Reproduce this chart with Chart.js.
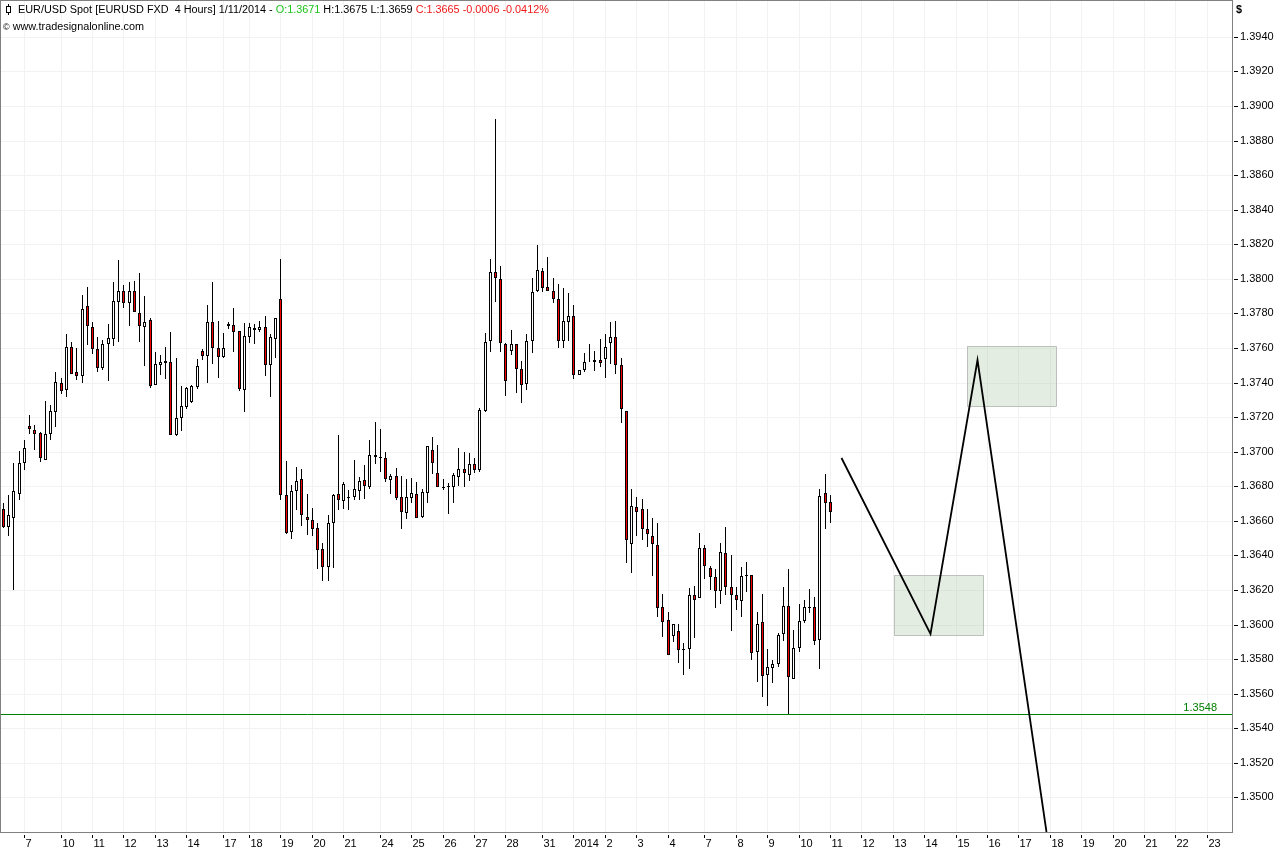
<!DOCTYPE html>
<html>
<head>
<meta charset="utf-8">
<title>EUR/USD Spot</title>
<script src="https://cdn.jsdelivr.net/npm/chart.js@4/dist/chart.umd.min.js"></script>
<style>
html, body { margin: 0; padding: 0; background: #fff; }
#wrap { position: relative; width: 1285px; height: 851px; overflow: hidden; }
canvas { position: absolute; left: 0; top: 0; }
.txt { position: absolute; font: 10.85px "Liberation Sans", sans-serif; color: #000; white-space: pre; line-height: 14px; }
</style>
</head>
<body>
<div id="wrap">
  <canvas id="chart" width="1285" height="851"></canvas>
  <div class="txt" style="left:18px;top:2px">EUR/USD Spot [EURUSD FXD  4 Hours] 1/11/2014 - <span style="color:#19c419">O:1.3671</span> H:1.3675 L:1.3659 <span style="color:#f01818">C:1.3665 -0.0006 -0.0412%</span></div>
  <div class="txt" style="left:3px;top:19px"><span style="font-size:9px">©</span> www.tradesignalonline.com</div>
  <div class="txt" style="left:1236px;top:2px;font-weight:bold">$</div>
</div>
<script>
const opens = [
  1.36668, 1.36567, 1.36614, 1.36758, 1.36937, 1.37147, 1.37124, 1.37106, 1.36954, 1.37105,
  1.37232, 1.37395, 1.37359, 1.37603, 1.37459, 1.37440, 1.37840, 1.37724, 1.37592, 1.37484,
  1.37624, 1.37653, 1.37867, 1.37927, 1.37861, 1.37927, 1.37805, 1.37722, 1.37759, 1.37388,
  1.37499, 1.37522, 1.37517, 1.37099, 1.37193, 1.37260, 1.37289, 1.37376, 1.37584, 1.37555,
  1.37748, 1.37597, 1.37549, 1.37736, 1.37730, 1.37696, 1.37359, 1.37665, 1.37713, 1.37705,
  1.37719, 1.37503, 1.37653, 1.37886, 1.36748, 1.36533, 1.36770, 1.36841, 1.36621, 1.36604,
  1.36558, 1.36437, 1.36331, 1.36585, 1.36754, 1.36714, 1.36737, 1.36735, 1.36772, 1.36835,
  1.36798, 1.36979, 1.36968, 1.36962, 1.36835, 1.36858, 1.36737, 1.36644, 1.36731, 1.36754,
  1.36625, 1.36760, 1.37008, 1.36875, 1.36797, 1.36800, 1.36795, 1.36852, 1.36899, 1.36864,
  1.36927, 1.36893, 1.37237, 1.37638, 1.38041, 1.38000, 1.37625, 1.37584, 1.37625, 1.37480,
  1.37394, 1.37642, 1.37931, 1.38046, 1.37954, 1.37931, 1.37885, 1.37642, 1.37752, 1.37786,
  1.37446, 1.37475, 1.37519, 1.37521, 1.37532, 1.37538, 1.37630, 1.37665, 1.37503, 1.37238,
  1.36464, 1.36678, 1.36666, 1.36551, 1.36510, 1.36458, 1.36099, 1.36024, 1.35932, 1.35960,
  1.35856, 1.35856, 1.36169, 1.36151, 1.36441, 1.36325, 1.36273, 1.36192, 1.36412, 1.36215,
  1.36169, 1.36134, 1.36285, 1.36285, 1.35839, 1.36013, 1.35706, 1.35746, 1.35770, 1.35943,
  1.36105, 1.35683, 1.35862, 1.36018, 1.36097, 1.36099, 1.35908, 1.36759, 1.36710
];
const closes = [
  1.36562, 1.36633, 1.36772, 1.36933, 1.37020, 1.37133, 1.37105, 1.36966, 1.37101, 1.37234,
  1.37401, 1.37353, 1.37603, 1.37451, 1.37440, 1.37828, 1.37728, 1.37592, 1.37486, 1.37620,
  1.37655, 1.37869, 1.37927, 1.37861, 1.37932, 1.37809, 1.37728, 1.37753, 1.37382, 1.37505,
  1.37517, 1.37515, 1.37099, 1.37193, 1.37262, 1.37366, 1.37378, 1.37493, 1.37555, 1.37748,
  1.37597, 1.37549, 1.37597, 1.37728, 1.37694, 1.37364, 1.37672, 1.37719, 1.37705, 1.37722,
  1.37503, 1.37661, 1.37771, 1.36752, 1.36527, 1.36772, 1.36829, 1.36633, 1.36604, 1.36552,
  1.36431, 1.36331, 1.36587, 1.36748, 1.36720, 1.36812, 1.36731, 1.36783, 1.36829, 1.36800,
  1.36979, 1.36968, 1.36962, 1.36841, 1.36858, 1.36731, 1.36650, 1.36737, 1.36760, 1.36616,
  1.36766, 1.37031, 1.36937, 1.36795, 1.36791, 1.36795, 1.36864, 1.36899, 1.36875, 1.36927,
  1.36893, 1.37239, 1.37632, 1.38042, 1.38006, 1.37630, 1.37411, 1.37625, 1.37480, 1.37388,
  1.37642, 1.37925, 1.38052, 1.37948, 1.37931, 1.37885, 1.37642, 1.37758, 1.37786, 1.37446,
  1.37475, 1.37521, 1.37521, 1.37532, 1.37513, 1.37607, 1.37665, 1.37503, 1.37244, 1.36487,
  1.36683, 1.36649, 1.36551, 1.36522, 1.36464, 1.36094, 1.36013, 1.35822, 1.36001, 1.35851,
  1.35851, 1.36169, 1.36140, 1.36441, 1.36337, 1.36273, 1.36192, 1.36418, 1.36215, 1.36169,
  1.36140, 1.36279, 1.36279, 1.35833, 1.36001, 1.35700, 1.35752, 1.35770, 1.35937, 1.36105,
  1.35694, 1.35862, 1.36018, 1.36099, 1.36101, 1.35903, 1.36742, 1.36701, 1.36650
];
const highs = [
  1.36702, 1.36748, 1.36933, 1.37004, 1.37068, 1.37212, 1.37155, 1.37112, 1.37291, 1.37270,
  1.37461, 1.37426, 1.37678, 1.37632, 1.37599, 1.37909, 1.37952, 1.37748, 1.37661, 1.37644,
  1.37738, 1.37980, 1.38107, 1.37963, 1.37980, 1.37986, 1.38036, 1.37903, 1.37771, 1.37576,
  1.37557, 1.37605, 1.37690, 1.37542, 1.37380, 1.37372, 1.37384, 1.37534, 1.37594, 1.37846,
  1.37979, 1.37755, 1.37686, 1.37749, 1.37830, 1.37696, 1.37742, 1.37742, 1.37738, 1.37755,
  1.37784, 1.37678, 1.37771, 1.38113, 1.36947, 1.36806, 1.36910, 1.36899, 1.36754, 1.36673,
  1.36585, 1.36471, 1.36633, 1.36754, 1.37095, 1.36824, 1.36777, 1.36952, 1.36852, 1.36922,
  1.37066, 1.37170, 1.37130, 1.36997, 1.36870, 1.36904, 1.36858, 1.36841, 1.36847, 1.36824,
  1.36783, 1.37031, 1.37083, 1.37037, 1.36841, 1.36818, 1.36875, 1.37020, 1.36997, 1.36991,
  1.36962, 1.37251, 1.37684, 1.38117, 1.38924, 1.38075, 1.37630, 1.37706, 1.37625, 1.37527,
  1.37682, 1.38006, 1.38196, 1.38064, 1.38127, 1.38006, 1.37971, 1.37948, 1.37919, 1.37850,
  1.37475, 1.37573, 1.37625, 1.37584, 1.37654, 1.37682, 1.37752, 1.37758, 1.37544, 1.37238,
  1.36782, 1.36735, 1.36724, 1.36666, 1.36614, 1.36585, 1.36175, 1.36070, 1.36001, 1.36003,
  1.35893, 1.36209, 1.36221, 1.36528, 1.36458, 1.36337, 1.36319, 1.36470, 1.36562, 1.36400,
  1.36215, 1.36331, 1.36360, 1.36285, 1.36070, 1.36175, 1.35856, 1.35793, 1.35949, 1.36215,
  1.36319, 1.35966, 1.36117, 1.36140, 1.36204, 1.36157, 1.36782, 1.36869, 1.36750
];
const lows = [
  1.36556, 1.36510, 1.36202, 1.36718, 1.36895, 1.37105, 1.37010, 1.36943, 1.36949, 1.37068,
  1.37145, 1.37336, 1.37318, 1.37451, 1.37414, 1.37399, 1.37617, 1.37567, 1.37463, 1.37474,
  1.37409, 1.37613, 1.37636, 1.37832, 1.37728, 1.37809, 1.37636, 1.37495, 1.37370, 1.37388,
  1.37445, 1.37422, 1.37099, 1.37093, 1.37122, 1.37249, 1.37280, 1.37364, 1.37530, 1.37397,
  1.37509, 1.37428, 1.37543, 1.37711, 1.37578, 1.37353, 1.37230, 1.37630, 1.37622, 1.37694,
  1.37438, 1.37318, 1.37543, 1.36723, 1.36521, 1.36492, 1.36664, 1.36571, 1.36516, 1.36510,
  1.36319, 1.36250, 1.36250, 1.36325, 1.36660, 1.36670, 1.36660, 1.36718, 1.36723, 1.36729,
  1.36787, 1.36931, 1.36885, 1.36822, 1.36758, 1.36718, 1.36550, 1.36608, 1.36706, 1.36616,
  1.36619, 1.36706, 1.36868, 1.36795, 1.36781, 1.36637, 1.36706, 1.36804, 1.36798, 1.36829,
  1.36874, 1.36881, 1.37232, 1.37578, 1.37865, 1.37577, 1.37322, 1.37557, 1.37340, 1.37282,
  1.37357, 1.37571, 1.37923, 1.37923, 1.37931, 1.37860, 1.37600, 1.37600, 1.37642, 1.37421,
  1.37446, 1.37461, 1.37519, 1.37467, 1.37492, 1.37426, 1.37505, 1.37450, 1.37167, 1.36358,
  1.36300, 1.36514, 1.36491, 1.36450, 1.36283, 1.36045, 1.35930, 1.35822, 1.35901, 1.35779,
  1.35710, 1.35743, 1.35924, 1.36151, 1.36261, 1.36202, 1.36097, 1.36121, 1.36169, 1.35964,
  1.36086, 1.36045, 1.36186, 1.35797, 1.35669, 1.35582, 1.35530, 1.35663, 1.35752, 1.35906,
  1.35480, 1.35683, 1.35841, 1.36011, 1.36069, 1.35883, 1.35744, 1.36555, 1.36590
];

const dayTicks = [4, 11, 17, 23, 29, 35, 42, 47, 53, 59, 65, 72, 78, 84, 90, 96, 103, 109, 115, 121, 127, 134, 140, 146, 152, 158, 164, 170, 176, 182, 188, 194, 200, 206, 212, 218, 224, 230];
const dayLabels = ['7', '10', '11', '12', '13', '14', '17', '18', '19', '20', '21', '24', '25', '26', '27', '28', '31', '2014', '2', '3', '4', '7', '8', '9', '10', '11', '12', '13', '14', '15', '16', '17', '18', '19', '20', '21', '22', '23'];
const priceTicks = [1.394, 1.392, 1.39, 1.388, 1.386, 1.384, 1.382, 1.38, 1.378, 1.376, 1.374, 1.372, 1.37, 1.368, 1.366, 1.364, 1.362, 1.36, 1.358, 1.356, 1.354, 1.352, 1.35];

const supportLevel = 1.3548;
const forecastX = [160.1, 177.1, 186, 199.2];
const forecastY = [1.36963, 1.35945, 1.3753, 1.348];
const lowerZoneX = [170.2, 187.2];
const lowerZoneY = [1.3594, 1.36287];
const upperZoneX = [184.2, 201.2];
const upperZoneY = [1.37264, 1.37611];

function zonePoints(xs, ys) {
    return [
        { x: xs[0], y: ys[0] }, { x: xs[1], y: ys[0] },
        { x: xs[1], y: ys[1] }, { x: xs[0], y: ys[1] }, { x: xs[0], y: ys[0] }
    ];
}

function zoneDataset(xs, ys) {
    return {
        type: 'line',
        data: zonePoints(xs, ys),
        borderColor: '#bcc1bc',
        borderWidth: 1,
        backgroundColor: 'rgba(170, 200, 165, 0.33)',
        fill: 'shape',
        pointRadius: 0,
        tension: 0,
        crispY: true,
        order: 5
    };
}

// snap candles to whole pixels, the original has no anti-aliasing
function snapX(scale) {
    const proto = Object.getPrototypeOf(scale);
    scale.getPixelForValue = v => Math.floor(proto.getPixelForValue.call(scale, v)) + 0.5;
}
function snapY(scale) {
    const proto = Object.getPrototypeOf(scale);
    scale.getPixelForValue = v => Math.round(proto.getPixelForValue.call(scale, v));
}
function noPadding(scale) {
    scale.paddingLeft = scale.paddingRight = scale.paddingTop = scale.paddingBottom = 0;
}

const frame = {
    id: 'frame',
    beforeDatasetDraw(chart, args) {
        const ds = chart.data.datasets[args.index];
        if (ds.crispY) {
            chart.ctx.save();
            chart.ctx.translate(0, 0.5);
        }
    },
    afterDatasetDraw(chart, args) {
        if (chart.data.datasets[args.index].crispY) chart.ctx.restore();
    },
    afterDraw(chart) {
        const { ctx, chartArea: a, scales } = chart;
        ctx.save();
        ctx.strokeStyle = '#808080';
        ctx.lineWidth = 1;
        ctx.strokeRect(0.5, 0.5, a.right, a.bottom);

        ctx.strokeStyle = '#000';
        ctx.beginPath();
        priceTicks.forEach(v => {
            const y = scales.y.getPixelForValue(v) + 0.5;
            ctx.moveTo(a.right + 2, y);
            ctx.lineTo(a.right + 6, y);
        });
        dayTicks.forEach(v => {
            const x = scales.x.getPixelForValue(v);
            ctx.moveTo(x, a.bottom + 3);
            ctx.lineTo(x, a.bottom + 6);
        });
        // little candle symbol in front of the title
        ctx.moveTo(8.5, 4);
        ctx.lineTo(8.5, 15);
        ctx.stroke();
        ctx.fillStyle = '#fff';
        ctx.fillRect(6.5, 6.5, 4, 6);
        ctx.strokeRect(6.5, 6.5, 4, 6);

        ctx.fillStyle = '#008000';
        ctx.font = '11px "Liberation Sans", sans-serif';
        ctx.textAlign = 'right';
        ctx.textBaseline = 'bottom';
        ctx.fillText(supportLevel.toFixed(4), a.right - 15, scales.y.getPixelForValue(supportLevel) - 1);
        ctx.restore();
    }
};

new Chart(document.getElementById('chart').getContext('2d'), {
    type: 'bar',
    data: {
        datasets: [
            zoneDataset(lowerZoneX, lowerZoneY),
            zoneDataset(upperZoneX, upperZoneY),
            {
                data: highs.map((h, i) => ({ x: i, y: [lows[i], h] })),
                backgroundColor: '#000',
                borderWidth: 0,
                barThickness: 1,
                inflateAmount: 0,
                grouped: false,
                order: 4
            },
            {
                data: opens.map((o, i) => ({ x: i, y: [o, closes[i]] })),
                backgroundColor: opens.map((o, i) => closes[i] < o ? '#f00000' : '#fff'),
                borderColor: '#000',
                borderWidth: 1,
                borderSkipped: false,
                barThickness: 3,
                inflateAmount: 0,
                grouped: false,
                order: 3
            },
            {
                type: 'line',
                data: [{ x: -1, y: supportLevel }, { x: 235, y: supportLevel }],
                borderColor: '#008000',
                borderWidth: 1,
                pointRadius: 0,
                crispY: true,
                order: 2
            },
            {
                type: 'line',
                data: forecastX.map((x, i) => ({ x: x, y: forecastY[i] })),
                borderColor: '#000',
                borderWidth: 1.8,
                pointRadius: 0,
                tension: 0,
                order: 1
            }
        ]
    },
    options: {
        responsive: false,
        animation: false,
        devicePixelRatio: 1,
        layout: { padding: { top: 1 } },
        plugins: { legend: { display: false }, tooltip: { enabled: false } },
        scales: {
            x: {
                type: 'linear',
                bounds: 'data',
                offset: false,
                min: -0.669,
                max: 234.72,
                afterBuildTicks(scale) {
                    scale.ticks = dayTicks.map(v => ({ value: v }));
                    snapX(scale);
                },
                afterFit(scale) {
                    scale.height = 19;
                    noPadding(scale);
                },
                grid: { color: '#f2f2f2', drawTicks: false, offset: false },
                border: { display: false },
                ticks: {
                    autoSkip: false,
                    maxRotation: 0,
                    align: 'start',
                    labelOffset: 1,
                    padding: 5,
                    color: '#000',
                    font: { family: '"Liberation Sans"', size: 11 },
                    callback: v => dayLabels[dayTicks.indexOf(v)]
                }
            },
            y: {
                type: 'linear',
                position: 'right',
                bounds: 'data',
                min: 1.348,
                max: 1.39607,
                afterBuildTicks(scale) {
                    scale.ticks = priceTicks.map(v => ({ value: v }));
                    snapY(scale);
                },
                afterFit(scale) {
                    scale.width = 53;
                    noPadding(scale);
                },
                grid: { color: '#f2f2f2', drawTicks: false },
                border: { display: false },
                ticks: {
                    autoSkip: false,
                    padding: 8,
                    color: '#000',
                    font: { family: '"Liberation Sans"', size: 11 },
                    callback: v => v.toFixed(4)
                }
            }
        }
    },
    plugins: [frame]
});
</script>
</body>
</html>
